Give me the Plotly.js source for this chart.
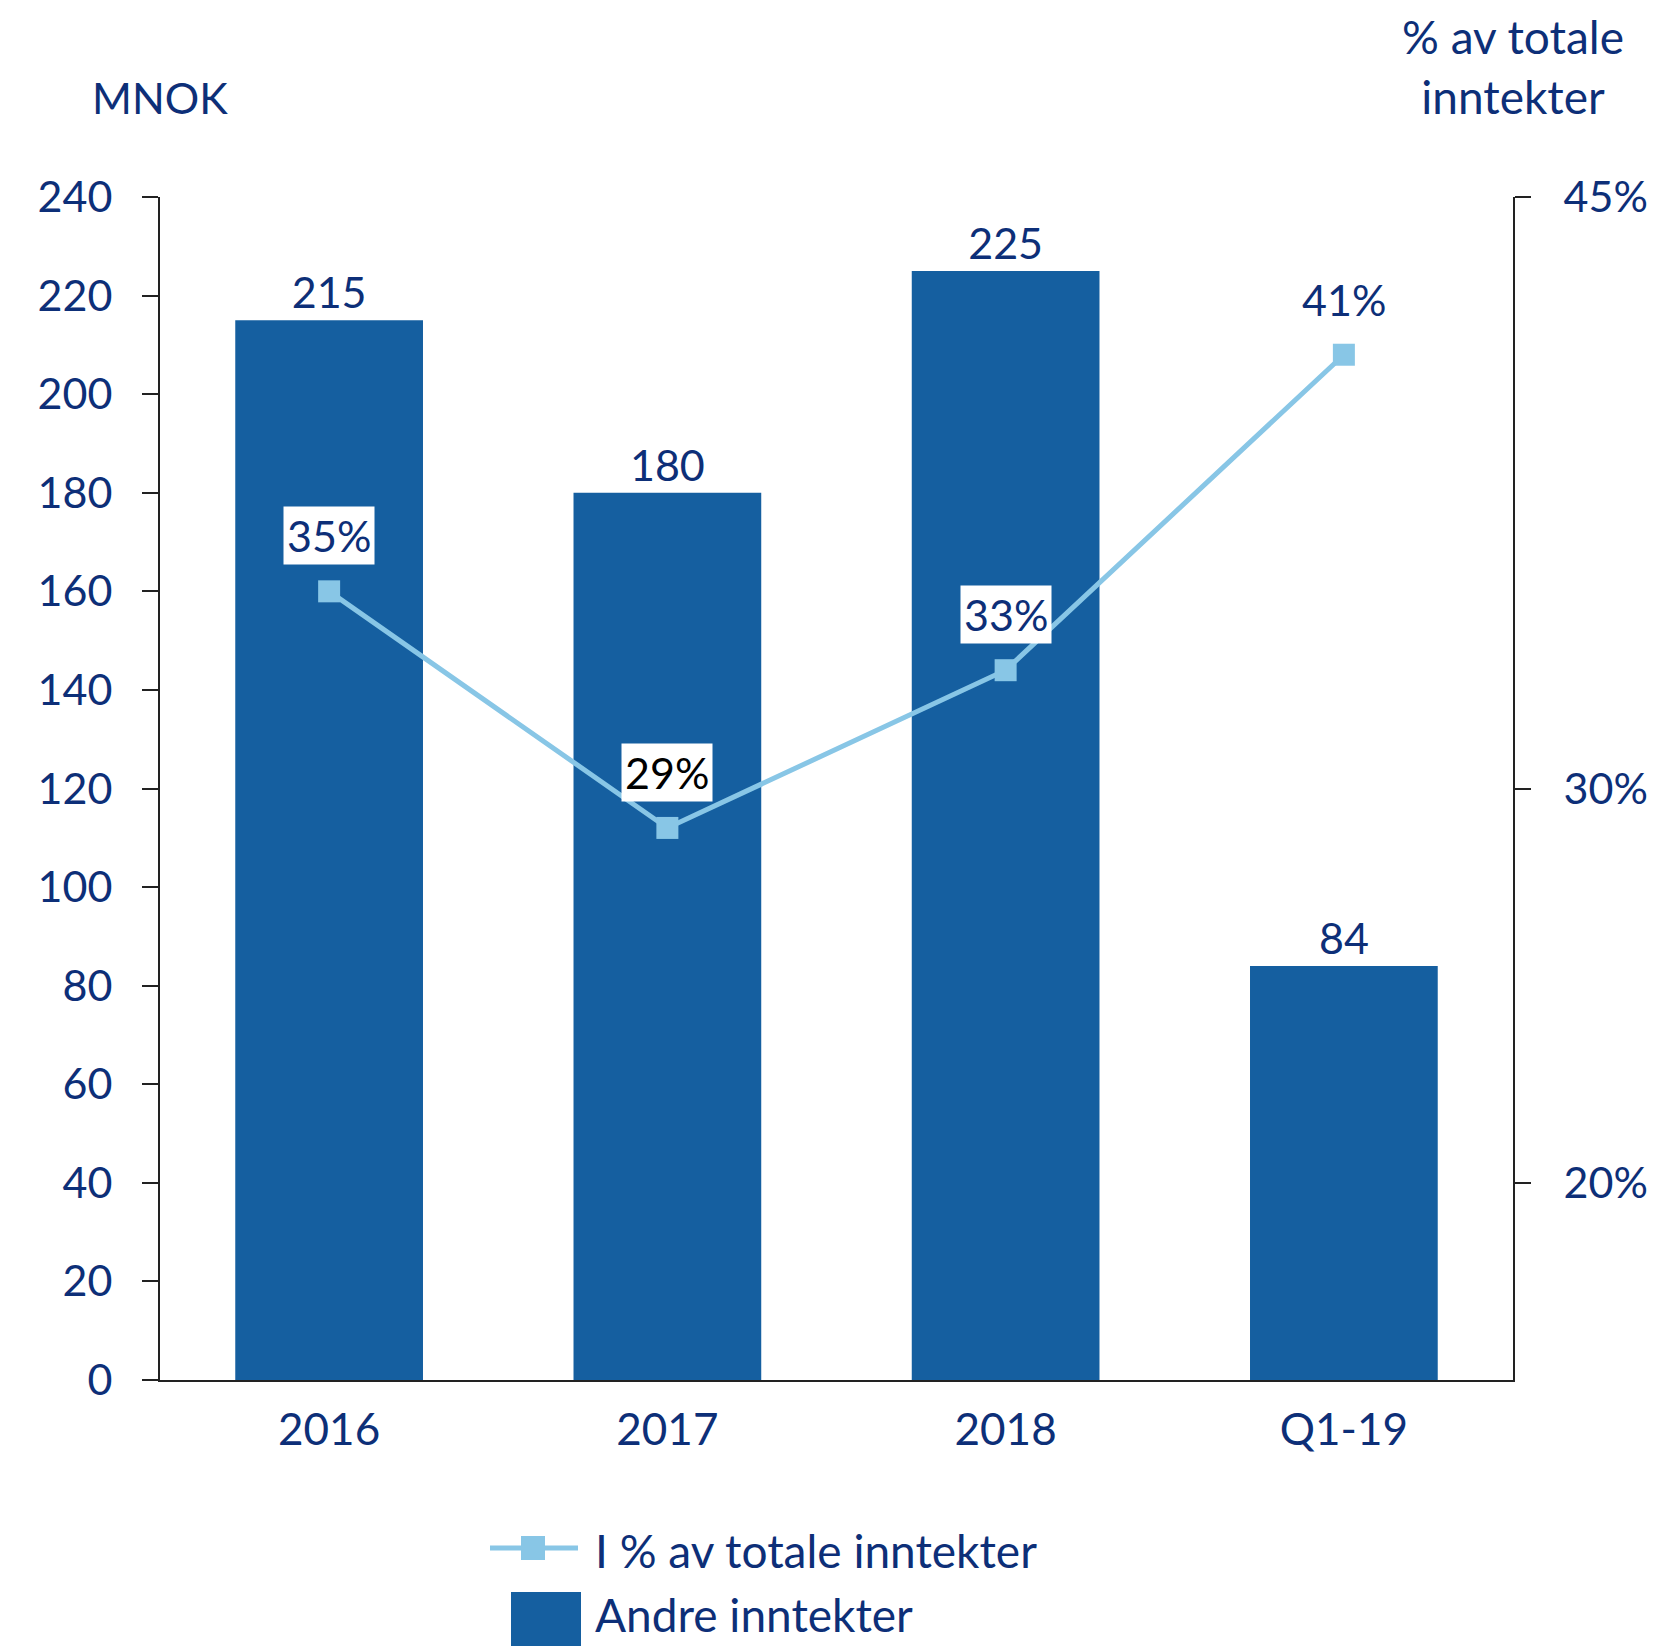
<!DOCTYPE html>
<html>
<head>
<meta charset="utf-8">
<script src="https://cdn.plot.ly/plotly-3.0.1.min.js"></script>
<style>
  html, body { margin: 0; padding: 0; background: #fff; }
  #chart { width: 1666px; height: 1646px; }
</style>
</head>
<body>
<div id="chart"></div>
<script>
// Data
const categories = ['2016', '2017', '2018', 'Q1-19'];
const otherIncome = [215, 180, 225, 84];          // MNOK, bars
const shareOfTotal = [35, 29, 33, 41];            // % of total income, line
const shareLabelColors = ['#0d2f78', '#000000', '#0d2f78', '#0d2f78'];
const rightTicks = [20, 30, 45];

const navy = '#0d2f78';
const barBlue = '#155fa0';
const lineBlue = '#88c6e6';
const fontFamily = 'Lato, "Open Sans", sans-serif';

// category positions on the x axis
const xpos = categories.map((c, i) => i);

// pixel -> paper helpers for the hand-made legend (plot area 160..1513 x 197..1380)
const px = p => (p - 160) / 1353;
const py = p => (1380 - p) / 1183;

// Bars (left axis)
const bars = {
    x: xpos,
    y: otherIncome,
    type: 'bar',
    name: 'Andre inntekter',
    marker: { color: barBlue },
    width: 0.555,
    text: otherIncome.map(v => String(v)),
    textposition: 'outside',
    cliponaxis: false,
    textfont: { family: fontFamily, size: 43, color: navy },
    showlegend: false,
    hoverinfo: 'skip'
};

// Share line (right axis)
const share = {
    x: xpos,
    y: shareOfTotal,
    yaxis: 'y2',
    type: 'scatter',
    mode: 'lines+markers',
    name: 'I % av totale inntekter',
    line: { color: lineBlue, width: 5 },
    marker: { symbol: 'square', size: 22, color: lineBlue },
    cliponaxis: false,
    showlegend: false,
    hoverinfo: 'skip'
};

// White-boxed percentage labels above each marker
const shareLabels = xpos.map((x, i) => ({
    x: x,
    y: shareOfTotal[i],
    xref: 'x',
    yref: 'y2',
    text: shareOfTotal[i] + '%',
    showarrow: false,
    yanchor: 'bottom',
    yshift: 26,
    bgcolor: '#ffffff',
    borderpad: 3,
    font: { family: fontFamily, size: 43, color: shareLabelColors[i] }
}));

// Legend drawn by hand so the keys match the reference size
const legendShapes = [
    { type: 'line', xref: 'paper', yref: 'paper', x0: px(490), x1: px(578), y0: py(1548), y1: py(1548),
      line: { color: lineBlue, width: 5 } },
    { type: 'rect', xref: 'paper', yref: 'paper', x0: px(521), x1: px(545), y0: py(1536), y1: py(1560),
      line: { width: 0 }, fillcolor: lineBlue },
    { type: 'rect', xref: 'paper', yref: 'paper', x0: px(511), x1: px(581), y0: py(1592), y1: py(1646),
      line: { width: 0 }, fillcolor: barBlue }
];
const legendTexts = [
    { text: share.name, x: px(593), y: py(1550) },
    { text: bars.name, x: px(593), y: py(1614) }
].map(a => Object.assign(a, {
    xref: 'paper', yref: 'paper', xanchor: 'left', yanchor: 'middle', showarrow: false,
    font: { family: fontFamily, size: 46, color: navy }
}));

const layout = {
    width: 1666,
    height: 1646,
    margin: { l: 160, r: 153, t: 197, b: 266 },
    paper_bgcolor: '#ffffff',
    plot_bgcolor: '#ffffff',
    font: { family: fontFamily, color: navy, size: 42 },
    showlegend: false,
    xaxis: {
        range: [-0.5, 3.5],
        tickvals: xpos,
        ticktext: categories,
        showline: true,
        linecolor: '#222222',
        linewidth: 2,
        ticks: 'outside',
        ticklen: 10,
        tickcolor: 'rgba(0,0,0,0)',
        showgrid: false,
        zeroline: false,
        tickfont: { family: fontFamily, size: 44, color: navy },
        fixedrange: true
    },
    yaxis: {
        range: [0, 240],
        dtick: 20,
        showline: true,
        linecolor: '#222222',
        linewidth: 2,
        ticks: 'outside',
        ticklen: 16,
        tickwidth: 2,
        tickcolor: '#222222',
        showgrid: false,
        zeroline: false,
        ticklabelstandoff: 21,
        tickfont: { family: fontFamily, size: 43, color: navy },
        fixedrange: true
    },
    yaxis2: {
        overlaying: 'y',
        side: 'right',
        range: [15, 45],
        tickvals: rightTicks,
        ticktext: rightTicks.map(v => v + '%'),
        showline: true,
        linecolor: '#222222',
        linewidth: 2,
        ticks: 'outside',
        ticklen: 16,
        tickwidth: 2,
        tickcolor: '#222222',
        showgrid: false,
        zeroline: false,
        ticklabelstandoff: 24,
        tickfont: { family: fontFamily, size: 43, color: navy },
        fixedrange: true
    },
    shapes: legendShapes,
    annotations: [
        {
            text: 'MNOK',
            xref: 'paper', yref: 'paper',
            x: 0, y: 1.084,
            xanchor: 'center', yanchor: 'middle',
            showarrow: false,
            font: { family: fontFamily, size: 43, color: navy }
        },
        {
            text: '% av totale<br>inntekter',
            xref: 'paper', yref: 'paper',
            x: 1, y: 1.11,
            xanchor: 'center', yanchor: 'middle',
            showarrow: false,
            font: { family: fontFamily, size: 46, color: navy }
        }
    ].concat(shareLabels, legendTexts)
};

Plotly.newPlot('chart', [bars, share], layout, { staticPlot: true, displayModeBar: false });
</script>
</body>
</html>
